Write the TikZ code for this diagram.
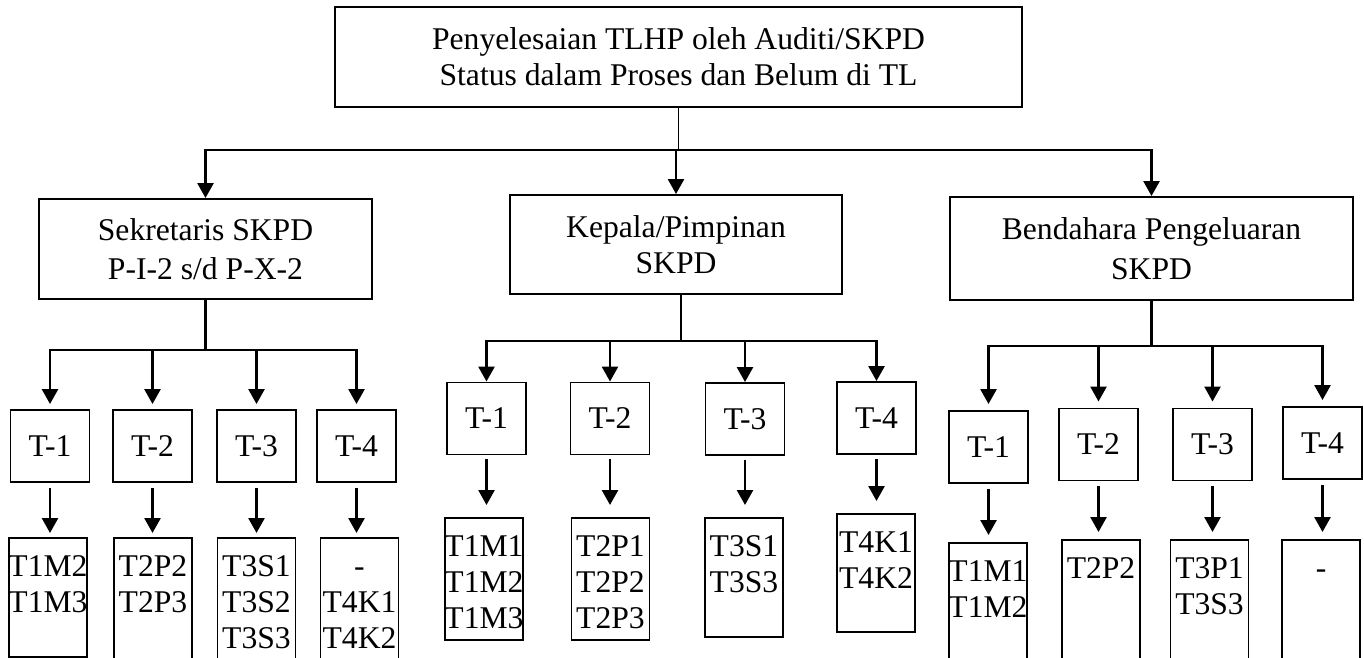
\documentclass[tikz,border=0pt]{standalone}
\usepackage{fontspec}
\setmainfont{Liberation Serif}
\usetikzlibrary{arrows.meta,positioning}

% leaf box with its text cut at the border: name, x, top, height, text
\newcommand{\leafnode}[5]{%
  \node[leaf, minimum height=#4] (#1) at (#2,#3) {};
  \begin{scope}
    \clip (#1.south west) rectangle (#1.north east);
    \node[leaftext] (#1t) at ([yshift=-0.37cm]#1.north) {\vphantom{T}#5};
  \end{scope}}

\begin{document}
\begin{tikzpicture}[
    x=0.02cm, y=-0.02cm,
    every node/.style={font=\fontsize{18}{20.5}\selectfont},
    box/.style={draw, line width=1.1pt, align=center, inner sep=0pt},
    tbox/.style={box, minimum width=1.58cm, minimum height=1.44cm},
    leaf/.style={draw, line width=1.1pt, minimum width=1.56cm, anchor=north, inner sep=0pt},
    leaftext/.style={align=center, anchor=north, inner sep=0pt},
    arrow/.style={-{Triangle[length=3mm, width=3.2mm]}, line width=1.5pt},
    bus/.style={line width=1.7pt, line cap=rect}
]
\useasboundingbox (0,0) rectangle (1364,658);

% Top box
\node[box, minimum width=13.74cm, minimum height=2cm] (top) at (678.5,57) {Penyelesaian TLHP oleh Auditi/SKPD\\Status dalam Proses dan Belum di TL};

% Second level
\node[box, minimum width=6.66cm, minimum height=2cm, font=\fontsize{18}{22.5}\selectfont] (sek) at (205.5,249) {Sekretaris SKPD\\P-I-2 s/d P-X-2};
\node[box, minimum width=6.64cm, minimum height=1.98cm] (kep) at (676,244.5) {Kepala/Pimpinan\\SKPD};
\node[box, minimum width=8.06cm, minimum height=2.06cm, font=\fontsize{18}{22.5}\selectfont] (ben) at (1151.5,248.5) {Bendahara Pengeluaran\\SKPD};

\coordinate (bar) at (677,150);
\draw[line width=0.6pt] (top.south) -- (top.south |- bar);
\draw[bus] (sek.north |- bar) -- (ben.north |- bar);
\draw[arrow] (sek.north |- bar) -- (sek.north);
\draw[arrow] (kep.north |- bar) -- (kep.north);
\draw[arrow] (ben.north |- bar) -- (ben.north);

% Sekretaris branch
\node[tbox] (s1) at (50,446) {T-1};
\node[tbox] (s2) at (152.5,446) {T-2};
\node[tbox] (s3) at (256.5,446) {T-3};
\node[tbox] (s4) at (356.5,446) {T-4};

\coordinate (sbar) at (205,350);
\draw[line width=1.6pt] (sek.south) -- (sek.south |- sbar);
\draw[bus] (s1.north |- sbar) -- (s4.north |- sbar);
\draw[arrow, shorten >=0.1cm] (s1.north |- sbar) -- (s1.north);
\draw[arrow, shorten >=0.1cm] (s2.north |- sbar) -- (s2.north);
\draw[arrow, shorten >=0.1cm] (s3.north |- sbar) -- (s3.north);
\draw[arrow, shorten >=0.1cm] (s4.north |- sbar) -- (s4.north);

\leafnode{s1l}{48}{537}{2.38cm}{T1M2\\T1M3}
\leafnode{s2l}{153}{537}{3cm}{T2P2\\T2P3}
\leafnode{s3l}{256.5}{537}{3cm}{T3S1\\T3S2\\T3S3}
\leafnode{s4l}{359.5}{537}{3cm}{-\\T4K1\\T4K2}

\draw[arrow, shorten <=0.1cm, shorten >=0.08cm] (s1.south) -- (s1.south |- s1l.north);
\draw[arrow, shorten <=0.1cm, shorten >=0.08cm] (s2.south) -- (s2.south |- s2l.north);
\draw[arrow, shorten <=0.1cm, shorten >=0.08cm] (s3.south) -- (s3.south |- s3l.north);
\draw[arrow, shorten <=0.1cm, shorten >=0.08cm] (s4.south) -- (s4.south |- s4l.north);

% Kepala branch
\node[tbox] (k1) at (486.5,418.5) {T-1};
\node[tbox] (k2) at (610,418.5) {T-2};
\node[tbox] (k3) at (745,419) {T-3};
\node[tbox] (k4) at (876.5,418) {T-4};

\coordinate (kbar) at (681,341);
\draw[line width=1.6pt] (kep.south -| kbar) -- (kbar);
\draw[bus] (k1.north |- kbar) -- (k4.north |- kbar);
\draw[arrow] (k1.north |- kbar) -- (k1.north);
\draw[arrow] (k2.north |- kbar) -- (k2.north);
\draw[arrow] (k3.north |- kbar) -- (k3.north);
\draw[arrow] (k4.north |- kbar) -- (k4.north);

\leafnode{k1l}{484}{517}{2.44cm}{T1M1\\T1M2\\T1M3}
\leafnode{k2l}{610.5}{517}{2.44cm}{T2P1\\T2P2\\T2P3}
\leafnode{k3l}{744}{517}{2.38cm}{T3S1\\T3S3}
\leafnode{k4l}{876}{513}{2.36cm}{T4K1\\T4K2}

\draw[arrow, shorten <=0.08cm, shorten >=0.24cm] (k1.south) -- (k1.south |- k1l.north);
\draw[arrow, shorten <=0.08cm, shorten >=0.24cm] (k2.south) -- (k2.south |- k2l.north);
\draw[arrow, shorten <=0.08cm, shorten >=0.24cm] (k3.south) -- (k3.south |- k3l.north);
\draw[arrow, shorten <=0.08cm, shorten >=0.24cm] (k4.south) -- (k4.south |- k4l.north);

% Bendahara branch
\node[tbox] (b1) at (988.5,447) {T-1};
\node[tbox] (b2) at (1098.5,444.5) {T-2};
\node[tbox] (b3) at (1212.5,444.5) {T-3};
\node[tbox] (b4) at (1322.5,443) {T-4};

\coordinate (bbar) at (1152,346);
\draw[line width=1.6pt] (ben.south) -- (ben.south |- bbar);
\draw[bus] (b1.north |- bbar) -- (b4.north |- bbar);
\draw[arrow, shorten >=0.12cm] (b1.north |- bbar) -- (b1.north);
\draw[arrow, shorten >=0.12cm] (b2.north |- bbar) -- (b2.north);
\draw[arrow, shorten >=0.12cm] (b3.north |- bbar) -- (b3.north);
\draw[arrow, shorten >=0.12cm] (b4.north |- bbar) -- (b4.north);

\leafnode{b1l}{988}{542}{3cm}{T1M1\\T1M2}
\leafnode{b2l}{1101}{539}{3cm}{T2P2}
\leafnode{b3l}{1209.5}{539}{3cm}{T3P1\\T3S3}
\leafnode{b4l}{1321}{539}{3cm}{-}

\draw[arrow, shorten <=0.1cm, shorten >=0.14cm] (b1.south) -- (b1.south |- b1l.north);
\draw[arrow, shorten <=0.1cm, shorten >=0.14cm] (b2.south) -- (b2.south |- b2l.north);
\draw[arrow, shorten <=0.1cm, shorten >=0.14cm] (b3.south) -- (b3.south |- b3l.north);
\draw[arrow, shorten <=0.1cm, shorten >=0.14cm] (b4.south) -- (b4.south |- b4l.north);

\end{tikzpicture}
\end{document}
